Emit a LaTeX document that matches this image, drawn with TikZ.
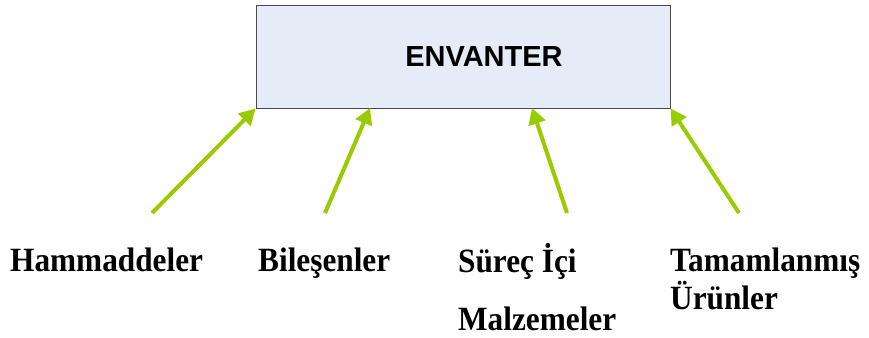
\documentclass[tikz,border=0pt]{standalone}
\usepackage{fontspec}
\setmainfont{Liberation Serif}
\setsansfont{Liberation Sans}
\newfontfamily\itemfont[FakeStretch=0.92]{Liberation Serif}
\usetikzlibrary{arrows.meta,positioning}

\definecolor{boxfill}{HTML}{E6ECF7}
\definecolor{boxline}{HTML}{4A4A4A}
\definecolor{arrowgreen}{HTML}{99CC00}

\begin{document}
\begin{tikzpicture}[
    x=1pt, y=-1pt,
    stockbox/.style={draw=boxline, line width=1pt, fill=boxfill,
        minimum width=414pt, minimum height=102pt, inner sep=0pt,
        font=\sffamily\bfseries\fontsize{29}{32}\selectfont},
    feed/.style={draw=arrowgreen, line width=4pt,
        -{Triangle[length=16pt,width=17pt]}},
    item/.style={anchor=base west, inner sep=0pt, align=left,
        font=\itemfont\bfseries\fontsize{34}{38}\selectfont}
    ]
    \useasboundingbox (0,0) rectangle (869,337);

    % the stock box, title pushed a bit to the right
    \node[stockbox] (stock) at (463,57) {\hspace*{42pt}ENVANTER};

    % where the arrows start and end
    \coordinate (t1) at (stock.south west);
    \coordinate (t2) at (370,108);
    \coordinate (t3) at (532,108);
    \coordinate (t4) at (stock.south east);
    \coordinate (s1) at (152,213);
    \coordinate (s2) at (325,213);
    \coordinate (s3) at (567,213);
    \coordinate (s4) at (739,213);

    \foreach \i in {1,...,4}
        \draw[feed] (s\i) -- (t\i);

    % kinds of stock (base sits on the last line)
    \node[item] (raw)  at (10,271)  {Hammaddeler};
    \node[item] (part) at (258,271) {Bileşenler};
    \node[item] (wip)  at (458,330) {Süreç İçi\\[20pt]Malzemeler};
    \node[item] (done) at (670,309) {Tamamlanmış\\Ürünler};
\end{tikzpicture}
\end{document}
